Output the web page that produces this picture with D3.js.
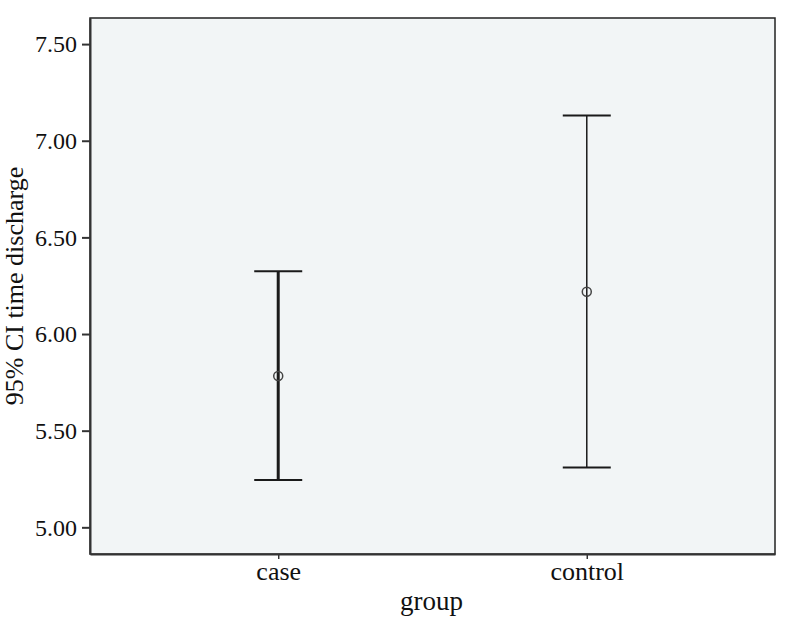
<!DOCTYPE html>
<html>
<head>
<meta charset="utf-8">
<script src="https://cdn.jsdelivr.net/npm/d3@7"></script>
<style>
  body { margin: 0; background: white; }
  svg text { font-family: "Liberation Serif", serif; fill: #111; }
</style>
</head>
<body>
<div id="container"></div>
<script>
let w = 794;
let h = 629;

// data
let groups = ["case", "control"];
let means = [5.783, 6.219];
let lower = [5.245, 5.31];
let upper = [6.325, 7.13];
let yTicks = [5.0, 5.5, 6.0, 6.5, 7.0, 7.5];

let plotLeft = 90, plotRight = 775, plotTop = 18, plotBottom = 554;

let viz = d3.select("#container")
  .append("svg")
    .attr("width", w)
    .attr("height", h)
;

let x = d3.scalePoint().domain(groups).range([plotLeft, plotRight]).padding(0.61);
let y = d3.scaleLinear().domain([4.862, 7.635]).range([plotBottom, plotTop]);

// plot background
viz.append("rect")
  .attr("x", plotLeft)
  .attr("y", plotTop)
  .attr("width", plotRight - plotLeft)
  .attr("height", plotBottom - plotTop)
  .style("fill", "#f2f5f6")
  .style("stroke", "#222")
  .style("stroke-width", 1.5)
;

// y axis
let yAxis = viz.append("g")
  .attr("transform", "translate(" + plotLeft + ",0)")
  .call(d3.axisLeft(y).tickValues(yTicks).tickSize(8).tickSizeOuter(0).tickPadding(5).tickFormat(d3.format(".2f")));
yAxis.select(".domain").style("stroke", "#333").style("stroke-width", 2);
yAxis.selectAll(".tick line").style("stroke", "#333").style("stroke-width", 2);
yAxis.selectAll("text").style("font-size", "24px").style("fill", "#111");

// x axis
let xAxis = viz.append("g")
  .attr("transform", "translate(0," + plotBottom + ")")
  .call(d3.axisBottom(x).tickSize(5).tickSizeOuter(0).tickPadding(2.5));
xAxis.select(".domain").style("stroke", "#333").style("stroke-width", 2);
xAxis.selectAll(".tick line").style("stroke", "#333").style("stroke-width", 1.5);
xAxis.selectAll("text").style("font-size", "26px").style("fill", "#111");

// axis titles
viz.append("text")
  .text("group")
  .attr("x", (plotLeft + plotRight) / 2 - 1)
  .attr("y", 610)
  .attr("text-anchor", "middle")
  .style("font-size", "27px")
;
viz.append("text")
  .text("95% CI time discharge")
  .attr("transform", "translate(23," + ((plotTop + plotBottom) / 2) + ") rotate(-90)")
  .attr("text-anchor", "middle")
  .style("font-size", "26px")
;

// error bars
let bars = viz.selectAll(".bar").data(groups).enter()
  .append("g")
    .attr("class", "bar")
;

bars.append("line")
  .attr("x1", d => x(d))
  .attr("x2", d => x(d))
  .attr("y1", (d, i) => y(upper[i]))
  .attr("y2", (d, i) => y(lower[i]))
  .style("stroke", "#1a1a1a")
  .style("stroke-width", (d, i) => i == 0 ? 3 : 1.5)
;

bars.append("line")
  .attr("x1", d => x(d) - 24)
  .attr("x2", d => x(d) + 24)
  .attr("y1", (d, i) => y(upper[i]))
  .attr("y2", (d, i) => y(upper[i]))
  .style("stroke", "#1a1a1a")
  .style("stroke-width", 2)
;

bars.append("line")
  .attr("x1", d => x(d) - 24)
  .attr("x2", d => x(d) + 24)
  .attr("y1", (d, i) => y(lower[i]))
  .attr("y2", (d, i) => y(lower[i]))
  .style("stroke", "#1a1a1a")
  .style("stroke-width", 2)
;

bars.append("circle")
  .attr("cx", d => x(d))
  .attr("cy", (d, i) => y(means[i]))
  .attr("r", 4.5)
  .style("fill", "none")
  .style("stroke", "#444")
  .style("stroke-width", 1.5)
;
</script>
</body>
</html>
